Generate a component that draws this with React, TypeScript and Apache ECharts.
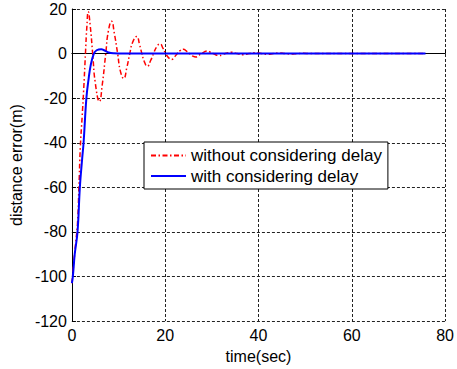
import React, { useEffect, useRef } from "react";
import * as echarts from "echarts";

const xTicks = [0, 20, 40, 60, 80];
const yTicks = [-120, -100, -80, -60, -40, -20, 0, 20];

const seriesNames = ["without considering delay", "with considering delay"];

// time (sec), distance error (m)
const withoutDelay: [number, number][] = [
  [0, -103], [0.3, -96], [0.8, -85], [1.2, -76], [1.5, -60], [1.8, -42],
  [2.2, -28], [2.5, -17], [2.9, 0], [3.2, 12], [3.5, 18.8], [3.9, 13],
  [4.45, 0], [5.0, -13], [5.9, -21.5], [6.5, -14], [7.25, 0], [7.8, 10],
  [8.5, 14.5], [9.1, 9], [9.8, 0], [10.4, -8], [11.1, -11.2], [11.8, -6],
  [12.4, 0], [13.0, 5], [13.9, 7.7], [14.5, 4], [15.0, 0], [15.5, -3.5],
  [16.15, -5.7], [16.9, -3], [17.5, 0], [18.1, 2.8], [18.9, 4.4], [19.5, 2.5],
  [20.1, 0], [20.7, -1.8], [21.4, -2.6], [22.0, -1.5], [22.6, 0], [23.2, 1.3],
  [23.9, 2.0], [24.5, 1.2], [25.2, 0], [25.8, -1.0], [26.6, -1.5], [27.2, -0.8],
  [27.8, 0], [28.4, 0.8], [29.0, 1.2], [29.6, 0.7], [30.3, 0], [30.9, -0.6],
  [31.6, -0.9], [32.3, -0.5], [32.9, 0], [34.2, 0.6], [35.4, 0], [36.7, -0.5],
  [38.0, 0], [39.3, 0.4], [40.6, 0], [41.9, -0.35], [43.2, 0], [44.5, 0.25],
  [45.7, 0], [47.0, -0.2], [48.3, 0], [49.6, 0.12], [51.0, 0], [60, 0], [75.8, 0],
];

const withDelay: [number, number][] = [
  [0, -103], [0.2, -100], [0.6, -90], [1.2, -80], [1.7, -60], [2.2, -47],
  [2.5, -40], [3.1, -20], [3.6, -11], [4.0, -5.5], [4.7, 0], [5.3, 1.5],
  [6.3, 2.0], [7.0, 1.4], [7.9, 0.5], [9.0, 0.15], [11, 0], [30, 0], [60, 0], [75.8, 0],
];

export default function App() {
  const ref = useRef<HTMLDivElement>(null);
  useEffect(() => {
    if (!ref.current) return;
    const chart = echarts.init(ref.current, null, { renderer: "svg" });
    const font = "Liberation Sans, Arial, Helvetica, sans-serif";
    const gridLine = { show: true, lineStyle: { color: "#222", width: 1, type: [3, 2] as any } };
    chart.setOption({
      animation: false,
      backgroundColor: "#fff",
      textStyle: { fontFamily: font },
      grid: { left: 67, right: 8, top: 9, bottom: 46, containLabel: false },
      xAxis: {
        type: "value",
        min: xTicks[0],
        max: xTicks[xTicks.length - 1],
        interval: 20,
        name: "time(sec)",
        nameLocation: "middle",
        nameGap: 22,
        nameTextStyle: { color: "#000", fontSize: 16, fontFamily: font },
        axisLine: { show: true, lineStyle: { color: "#000", width: 1 } },
        axisTick: { show: true, inside: true, length: 4, lineStyle: { color: "#000" } },
        axisLabel: { color: "#000", fontSize: 16, margin: 6, fontFamily: font },
        splitLine: gridLine,
      },
      yAxis: {
        type: "value",
        min: yTicks[0],
        max: yTicks[yTicks.length - 1],
        interval: 20,
        name: "distance error(m)",
        nameLocation: "middle",
        nameGap: 44,
        nameTextStyle: { color: "#000", fontSize: 16, fontFamily: font },
        axisLine: { show: true, lineStyle: { color: "#000", width: 1 } },
        axisTick: { show: true, inside: true, length: 4, lineStyle: { color: "#000" } },
        axisLabel: { color: "#000", fontSize: 16, margin: 5, fontFamily: font },
        splitLine: gridLine,
      },
      legend: {
        left: 144,
        top: 142,
        orient: "vertical",
        backgroundColor: "#fff",
        borderColor: "#000",
        borderWidth: 1,
        borderRadius: 0,
        padding: [5, 6, 4.5, 6],
        itemWidth: 35,
        itemHeight: 14,
        itemGap: 3.5,
        itemStyle: { opacity: 0 },
        textStyle: { color: "#000", fontSize: 17, fontFamily: font },
        data: seriesNames,
      },
      series: [
        {
          name: seriesNames[0],
          type: "line",
          data: withoutDelay,
          symbol: "none",
          smooth: 0.5,
          lineStyle: { color: "#ff0000", width: 1.5, type: [5, 2.5, 1.5, 2.5] as any },
          itemStyle: { color: "#ff0000" },
          z: 2,
        },
        {
          name: seriesNames[1],
          type: "line",
          data: withDelay,
          symbol: "none",
          smooth: 0.4,
          lineStyle: { color: "#0000ff", width: 2, type: "solid" },
          itemStyle: { color: "#0000ff" },
          z: 3,
        },
      ],
    });
    return () => chart.dispose();
  }, []);
  return (
    <div
      ref={ref}
      style={{ position: "fixed", left: 0, top: 0, width: 457, height: 369 }}
    />
  );
}
